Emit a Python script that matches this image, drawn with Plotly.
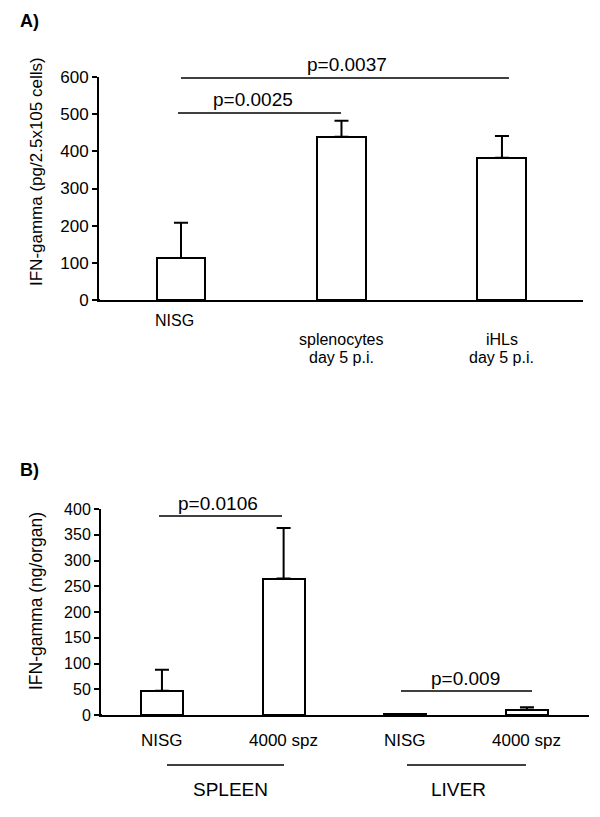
import plotly.graph_objects as go

# the page body has an 8px margin, so the figure is drawn 8px in and 8px smaller
OFF = 8
W, H = 600 - OFF, 817 - OFF

# ---------- data ----------
a_categories = ["NISG", "splenocytes", "iHLs"]
a_subtitles = ["", "day 5 p.i.", "day 5 p.i."]
a_values = [113, 439, 383]
a_errors = [95, 43, 58]

b_categories = ["NISG", "4000 spz", "NISG", "4000 spz"]
b_values = [47, 265, 1.5, 10]
b_errors = [41, 98, 0.5, 5]
b_groups = ["SPLEEN", "LIVER"]

a_pvalues = ["p=0.0025", "p=0.0037"]
b_pvalues = ["p=0.0106", "p=0.009"]

FONT = "Liberation Sans, Arial, Helvetica, sans-serif"


def px_x(p):
    return (p - OFF) / W


def px_y(p):
    return 1 - (p - OFF) / H


fig = go.Figure()

bar_style = dict(marker=dict(color="white", line=dict(color="black", width=2)),
                 showlegend=False, hoverinfo="skip")

fig.add_trace(go.Bar(
    x=list(range(len(a_values))), y=a_values, width=0.305,
    error_y=dict(type="data", symmetric=False, array=a_errors,
                 arrayminus=[0] * len(a_errors), color="black", thickness=2, width=7),
    xaxis="x", yaxis="y", **bar_style))

fig.add_trace(go.Bar(
    x=list(range(len(b_values))), y=b_values, width=0.345,
    error_y=dict(type="data", symmetric=False, array=b_errors,
                 arrayminus=[0] * len(b_errors), color="black", thickness=2, width=7),
    xaxis="x2", yaxis="y2", **bar_style))

axis_common = dict(showgrid=False, zeroline=False, showline=True, linecolor="black",
                   linewidth=2, mirror=False, automargin=False)

fig.update_layout(
    width=W, height=H,
    margin=dict(l=0, r=0, t=0, b=0),
    paper_bgcolor="white", plot_bgcolor="white",
    font=dict(family=FONT, color="black"),
    bargap=0,
    xaxis=dict(domain=[px_x(99), px_x(583)], range=[-0.511, 2.505],
               showticklabels=False, ticks="", anchor="y", **axis_common),
    yaxis=dict(domain=[px_y(300), px_y(77)], range=[0, 600], dtick=100,
               ticks="outside", ticklen=5, tickwidth=2, tickcolor="black",
               tickfont=dict(size=17), anchor="x", **axis_common),
    xaxis2=dict(domain=[px_x(101), px_x(589)], range=[-0.501, 3.51],
                showticklabels=False, ticks="", anchor="y2", **axis_common),
    yaxis2=dict(domain=[px_y(715), px_y(509)], range=[0, 400], dtick=50,
                ticks="outside", ticklen=5, tickwidth=2, tickcolor="black",
                tickfont=dict(size=16), anchor="x2", **axis_common),
)


def hline(x0, x1, y, width=1.5):
    return dict(type="line", xref="paper", yref="paper",
                x0=px_x(x0), x1=px_x(x1), y0=px_y(y), y1=px_y(y),
                line=dict(color="black", width=width))


shapes = [
    hline(178, 341, 113),      # p=0.0025
    hline(181, 509, 78),       # p=0.0037
    hline(159, 282, 516),      # p=0.0106
    hline(401, 532, 691),      # p=0.009
    hline(167, 284, 765),      # SPLEEN underline
    hline(407, 526, 765),      # LIVER underline
    hline(94, 100, 300, 2),    # x-axis stub left of y-axis (A)
    hline(96, 102, 715, 2),    # x-axis stub left of y-axis (B)
]
fig.update_layout(shapes=shapes)


def text(t, x, y, size, bold=False, angle=0, xanchor="center"):
    return dict(text=f"<b>{t}</b>" if bold else t, x=px_x(x), y=px_y(y),
                xref="paper", yref="paper", xanchor=xanchor, yanchor="middle",
                showarrow=False, textangle=angle, font=dict(size=size))


ann = [
    text("A)", 18, 21, 18, bold=True, xanchor="left"),
    text("B)", 18, 470, 18, bold=True, xanchor="left"),
    text("IFN-gamma (pg/2.5x105 cells)", 36, 172, 17, angle=-90),
    text("IFN-gamma (ng/organ)", 36, 601, 17.5, angle=-90),
    text(a_pvalues[0], 253, 100, 19),
    text(a_pvalues[1], 347, 65, 19),
    text(b_pvalues[0], 218, 503, 19),
    text(b_pvalues[1], 465, 678, 19),
    text(b_groups[0], 230, 789, 19),
    text(b_groups[1], 458, 789, 19),
]

# category labels, panel A (single-line label sits higher than two-line ones)
for i, (cat, sub) in enumerate(zip(a_categories, a_subtitles)):
    if sub:
        ann.append(dict(text=cat, x=i, y=px_y(340), xref="x", yref="paper",
                        yanchor="middle", showarrow=False, font=dict(size=16)))
        ann.append(dict(text=sub, x=i, y=px_y(357), xref="x", yref="paper",
                        yanchor="middle", showarrow=False, font=dict(size=16)))
    else:
        ann.append(dict(text=cat, x=i - 0.04, y=px_y(321), xref="x", yref="paper",
                        yanchor="middle", showarrow=False, font=dict(size=16)))

# category labels, panel B
for i, cat in enumerate(b_categories):
    ann.append(dict(text=cat, x=i, y=px_y(740), xref="x2", yref="paper",
                    yanchor="middle", showarrow=False, font=dict(size=17)))

fig.update_layout(annotations=ann)

fig.write_html("out.html")
